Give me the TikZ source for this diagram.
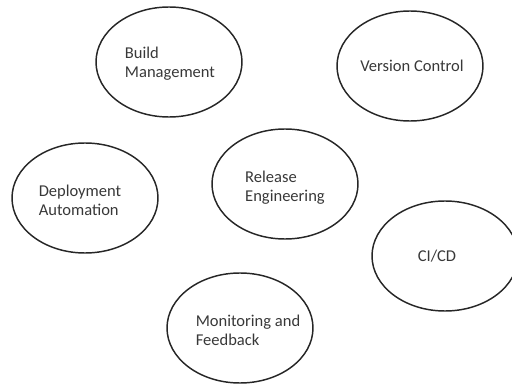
\documentclass[tikz,border=0pt]{standalone}
\usepackage{fontspec}
\setmainfont{Carlito}
\usetikzlibrary{shapes.geometric}

\tikzset{
  bubble/.style={draw=black!85, line width=1.1pt, ellipse, inner sep=0pt,
                 minimum width=109.5pt, minimum height=82.5pt},
  words/.style={font=\fontsize{12.4}{14.3}\selectfont, text=black!78, align=left, inner sep=0pt}
}

\begin{document}
\begin{tikzpicture}[x=0.75pt, y=-0.75pt]
    \useasboundingbox (0,0) rectangle (512,385);
    % the six practice areas
    \node[bubble] (build)   at (169, 62) {};
    \node[bubble] (version) at (410, 66) {};
    \node[bubble] (deploy)  at ( 85,198) {};
    \node[bubble] (release) at (285,184) {};
    \node[bubble] (cicd)    at (445,256) {};
    \node[bubble] (monitor) at (240,328) {};
    % their names
    \node[words] (buildtxt)   at ([shift={(1,2)}]build)    {Build\\Management};
    \node[words] (versiontxt) at ([shift={(2,0)}]version)  {Version Control};
    \node[words] (deploytxt)  at ([shift={(-5,2)}]deploy)  {Deployment\\Automation};
    \node[words] (releasetxt) at ([shift={(0,4)}]release)  {Release\\Engineering};
    \node[words] (cicdtxt)    at ([shift={(-8,0)}]cicd)    {CI/CD};
    \node[words] (monitortxt) at ([shift={(8,2)}]monitor)  {Monitoring and\\Feedback};
\end{tikzpicture}
\end{document}
